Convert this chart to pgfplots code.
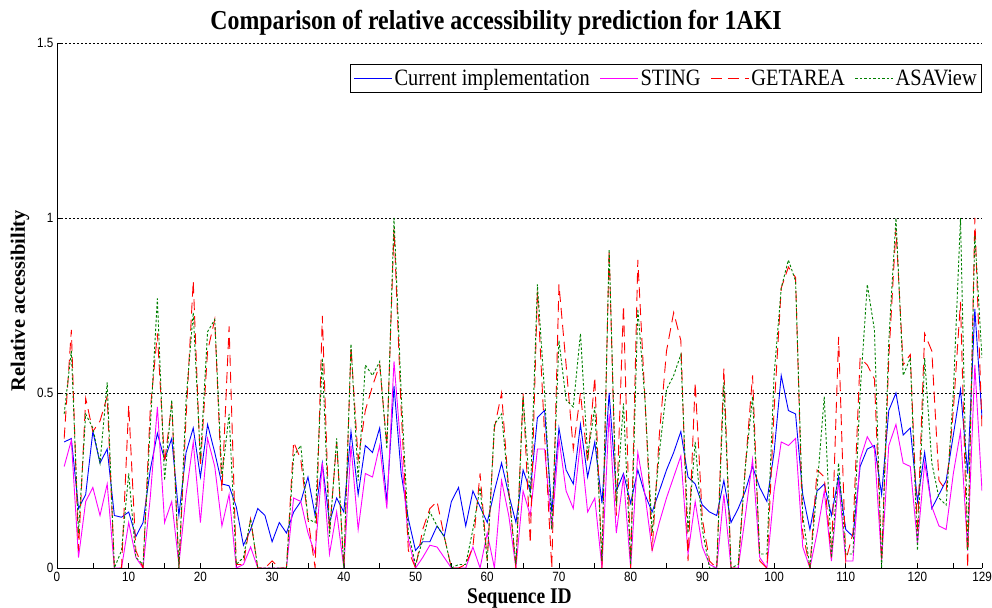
\documentclass[border=0pt]{standalone}
\usepackage{fontspec}
\setmainfont[FakeStretch=0.87]{Liberation Serif}
\newfontfamily\ylabfont{Liberation Serif}
\newfontfamily\tickfont[FakeStretch=0.87]{Liberation Sans}
\usepackage{pgfplots}
\usepackage{pgfplotstable}
\pgfplotsset{compat=1.18}

\pgfplotstableread{
x cur sting getarea asaview
1 0.36 0.29 0.37 0.44
2 0.37 0.365 0.68 0.62
3 0.17 0.03 0.05 0.10
4 0.21 0.19 0.485 0.44
5 0.39 0.23 0.39 0.40
6 0.30 0.15 0.42 0.30
7 0.34 0.24 0.49 0.53
8 0.15 0 0 0
9 0.145 0 0 0.05
10 0.16 0.13 0.465 0.27
11 0.09 0.03 0.05 0.03
12 0.13 0 0 0.01
13 0.28 0.20 0.45 0.40
14 0.385 0.46 0.67 0.77
15 0.31 0.13 0.30 0.25
16 0.37 0.19 0.47 0.48
17 0.15 0.01 0 0
18 0.33 0.21 0.43 0.48
19 0.40 0.36 0.82 0.73
20 0.26 0.13 0.29 0.31
21 0.41 0.37 0.62 0.675
22 0.33 0.29 0.71 0.71
23 0.24 0.12 0.22 0.26
24 0.235 0.21 0.69 0.44
25 0.175 0 0.01 0.01
26 0.065 0.01 0.01 0.03
27 0.11 0.06 0.14 0.14
28 0.17 0 0 0
29 0.15 0 0 0
30 0.075 0 0.02 0
31 0.13 0 0 0
32 0.10 0 0 0
33 0.16 0.20 0.36 0.32
34 0.19 0.19 0.31 0.35
35 0.26 0.10 0.14 0.14
36 0.15 0.04 0 0.13
37 0.30 0.30 0.72 0.60
38 0.13 0.04 0.10 0.09
39 0.20 0.16 0.36 0.37
40 0.16 0 0 0
41 0.39 0.35 0.63 0.64
42 0.21 0.11 0.31 0.25
43 0.35 0.27 0.45 0.58
44 0.33 0.26 0.52 0.55
45 0.40 0.35 0.58 0.59
46 0.19 0.17 0.35 0.34
47 0.52 0.59 0.97 1.0
48 0.27 0.33 0.45 0.50
49 0.14 0.08 0.05 0.10
50 0.05 0 0 0.01
51 0.075 0.03 0.11 0.08
52 0.075 0.065 0.17 0.16
53 0.12 0.06 0.19 0.12
54 0.09 0.03 0.09 0.09
55 0.19 0 0 0
56 0.23 0 0 0.01
57 0.12 0 0.01 0.01
58 0.22 0.06 0.06 0.11
59 0.175 0 0.27 0.23
60 0.13 0.10 0.02 0.02
61 0.22 0 0.40 0.41
62 0.30 0.25 0.50 0.44
63 0.21 0.15 0.22 0.22
64 0.13 0 0 0.01
65 0.28 0.22 0.50 0.49
66 0.22 0.15 0.07 0.20
67 0.43 0.34 0.79 0.81
68 0.45 0.34 0.38 0.50
69 0.16 0.11 0 0.11
70 0.40 0.37 0.81 0.65
71 0.28 0.22 0.58 0.48
72 0.24 0.17 0.34 0.46
73 0.41 0.36 0.50 0.67
74 0.26 0.16 0.30 0.32
75 0.36 0.20 0.545 0.46
76 0.185 0 0 0.02
77 0.50 0.44 0.91 0.91
78 0.22 0.10 0.15 0.18
79 0.27 0.26 0.75 0.47
80 0.185 0 0 0.01
81 0.28 0.33 0.88 0.74
82 0.21 0.21 0.48 0.48
83 0.16 0.05 0.05 0.10
84 0.22 0.13 0.38 0.33
85 0.28 0.20 0.62 0.51
86 0.33 0.26 0.73 0.55
87 0.39 0.32 0.65 0.61
88 0.26 0.04 0.02 0.10
89 0.24 0.19 0.53 0.36
90 0.18 0.06 0.14 0.11
91 0.16 0.01 0.02 0
92 0.15 0 0 0
93 0.25 0.21 0.57 0.53
94 0.13 0 0 0
95 0.17 0 0 0.01
96 0.22 0.15 0.29 0.29
97 0.29 0.31 0.55 0.49
98 0.23 0.03 0.02 0.04
99 0.19 0 0 0.04
100 0.33 0.22 0.45 0.55
101 0.55 0.36 0.80 0.80
102 0.45 0.35 0.86 0.88
103 0.44 0.37 0.83 0.82
104 0.21 0.06 0.10 0.15
105 0.11 0 0 0
106 0.22 0.10 0.28 0.23
107 0.24 0.22 0.26 0.49
108 0.15 0.02 0.03 0.03
109 0.26 0.25 0.66 0.30
110 0.11 0.02 0.02 0.04
111 0.09 0.02 0.10 0.04
112 0.29 0.31 0.60 0.50
113 0.34 0.375 0.58 0.81
114 0.35 0.34 0.54 0.68
115 0.21 0.02 0.02 0
116 0.45 0.35 0.60 0.65
117 0.50 0.41 0.97 1.0
118 0.38 0.30 0.58 0.55
119 0.40 0.29 0.61 0.60
120 0.19 0.07 0.10 0.05
121 0.33 0.30 0.67 0.60
122 0.17 0.175 0.62 0.30
123 0.21 0.12 0.25 0.20
124 0.25 0.11 0.22 0.18
125 0.38 0.27 0.45 0.50
126 0.51 0.39 0.76 1.0
127 0.27 0.05 0 0.05
128 0.74 0.58 1.0 0.95
129 0.43 0.22 0.40 0.60
}\datatable

\definecolor{mblue}{rgb}{0,0,1}
\definecolor{mmag}{rgb}{1,0,1}
\definecolor{mred}{rgb}{1,0,0}
\definecolor{mgreen}{rgb}{0,0.5,0}

\begin{document}
\begin{tikzpicture}
\path[use as bounding box] (-57bp,-40bp) rectangle (935bp,568bp);
\begin{axis}[
  scale only axis,
  width=925bp, height=525bp,
  anchor=south west, at={(0,0)},
  xmin=0, xmax=129, ymin=0, ymax=1.5,
  axis x line*=bottom, axis y line*=left,
  axis line style={black, line width=0.6bp},
  xtick={0,10,...,120,129},
  minor xtick={5,15,...,125},
  ytick={0,0.5,1,1.5},
  yticklabels={0,0.5,1,1.5},
  tick align=inside,
  major tick length=5bp, minor tick length=5bp,
  tick style={black, line width=0.6bp},
  ymajorgrids=true,
  major grid style={black, line width=0.6bp, dash pattern=on 2bp off 2bp},
  /pgf/number format/assume math mode=true,
  tick label style={font=\tickfont\fontsize{13.5}{13.5}\selectfont},
  xticklabel style={yshift=-1bp},
  title={\bfseries\fontsize{27.5}{30}\selectfont Comparison of relative accessibility prediction for 1AKI},
  title style={at={(0.4746,1.028)}, anchor=center},
  xlabel={\bfseries\fontsize{22.5}{24}\selectfont Sequence ID},
  xlabel style={at={(0.5,-0.058)}, anchor=center},
  ylabel={\ylabfont\bfseries\fontsize{20.5}{22}\selectfont Relative accessibility},
  ylabel style={at={(-0.04,0.509)}, anchor=center},
  legend columns=-1,
  legend style={at={(1,0.96)}, anchor=north east, draw=black, line width=0.6bp,
    font=\fontsize{23.5}{26}\selectfont, inner xsep=3bp, inner ysep=3bp, row sep=0pt,
    /tikz/every even column/.append style={column sep=8bp}},
  legend image code/.code={\draw[#1, line width=0.9bp] (0bp,0bp) -- (38bp,0bp);},
  every axis plot/.append style={line width=0.9bp},
]
\addplot[mblue, solid] table[x=x, y=cur] {\datatable};
\addlegendentry{Current implementation}
\addplot[mmag, solid] table[x=x, y=sting] {\datatable};
\addlegendentry{STING}
\addplot[mred, dash pattern=on 11bp off 6bp] table[x=x, y=getarea] {\datatable};
\addlegendentry{GETAREA}
\addplot[mgreen, dash pattern=on 2.5bp off 2bp] table[x=x, y=asaview] {\datatable};
\addlegendentry{ASAView}
\end{axis}
\end{tikzpicture}
\end{document}
